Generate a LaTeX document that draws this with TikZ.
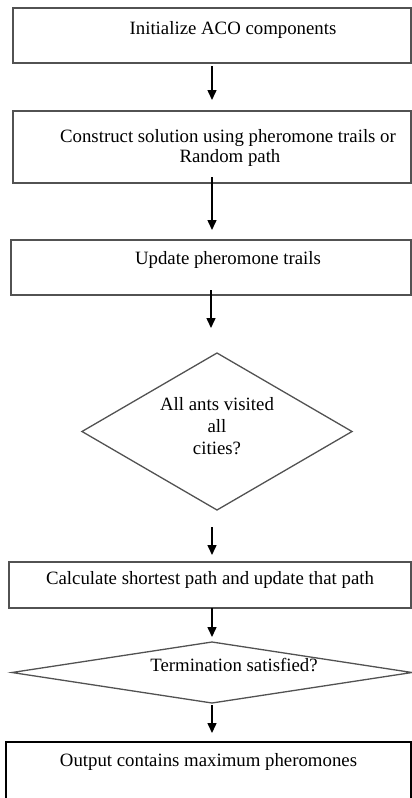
\documentclass[tikz,border=0pt]{standalone}
\usepackage{fontspec}
\setmainfont{Liberation Serif}
\usetikzlibrary{positioning,shapes.geometric,arrows.meta}

\tikzset{
  stepbox/.style={rectangle, draw=black!68, line width=1.6pt, inner xsep=0pt, inner ysep=0pt, outer sep=0pt, font=\fontsize{18.8}{20}\selectfont},
  decision/.style={diamond, draw=black!68, line width=1.3pt, inner sep=0pt, outer sep=0pt, align=center, font=\fontsize{18.8}{22}\selectfont},
  flow/.style={line width=1.5pt, -{Triangle[width=9pt,length=10pt]}},
}

\begin{document}
\begin{tikzpicture}

    \clip (0,0) rectangle (412pt,-798pt);

    % Nodes
    \node[stepbox, minimum width=398pt, text height=26pt, text depth=29pt, anchor=north east] (init) at (411pt,-8pt) {\hspace*{42pt}Initialize ACO components}; % first step
    \node[stepbox, minimum width=398pt, align=center, text height=51pt, text depth=21pt, below=48pt of init.south east, anchor=north east] (construct) {\hspace*{32pt}Construct solution using pheromone trails or\\\hspace*{36pt}Random path}; % tours of the ants
    \node[stepbox, minimum width=400pt, text height=24pt, text depth=31pt, below=57pt of construct.south east, anchor=north east] (update) {\hspace*{34pt}Update pheromone trails}; % pheromone update
    \node[decision, minimum width=270pt, minimum height=157pt, aspect=1.72, text depth=12pt, below=58pt of update, xshift=6pt] (visited) {All ants visited\\all\\cities?}; % first test
    \node[stepbox, minimum width=402pt, text height=22pt, text depth=24pt, below=52pt of visited, xshift=-7pt] (shortest) {Calculate shortest path and update that path}; % best tour
    \node[decision, minimum width=400pt, minimum height=61pt, aspect=6.56, text height=12pt, text depth=14pt, below=34pt of shortest, xshift=2pt] (termination) {\hspace*{44pt}Termination satisfied?}; % second test
    \node[stepbox, draw=black, line width=1.2pt, minimum width=405pt, text height=24pt, text depth=39pt, below=39pt of termination, xshift=-3.5pt] (output) {Output contains maximum pheromones}; % result

    % Edges
    \draw[flow, shorten <=3pt, shorten >=11pt] (init) -- (construct); % init to construct
    \draw[flow, shorten <=-6pt, shorten >=10pt] (construct.south) -- (construct.south |- update.north); % construct to update
    \draw[flow, shorten <=-5pt, shorten >=25pt] (update.south) -- (update.south |- visited.north); % update to first test
    \draw[flow, shorten <=17pt, shorten >=7pt] (termination |- visited.south) -- (termination |- shortest.north); % first test to best tour
    \draw[flow, shorten >=5pt] (termination |- shortest.south) -- (termination); % best tour to second test
    \draw[flow, shorten <=2pt, shorten >=9pt] (termination) -- (termination |- output.north); % second test to result

\end{tikzpicture}
\end{document}
